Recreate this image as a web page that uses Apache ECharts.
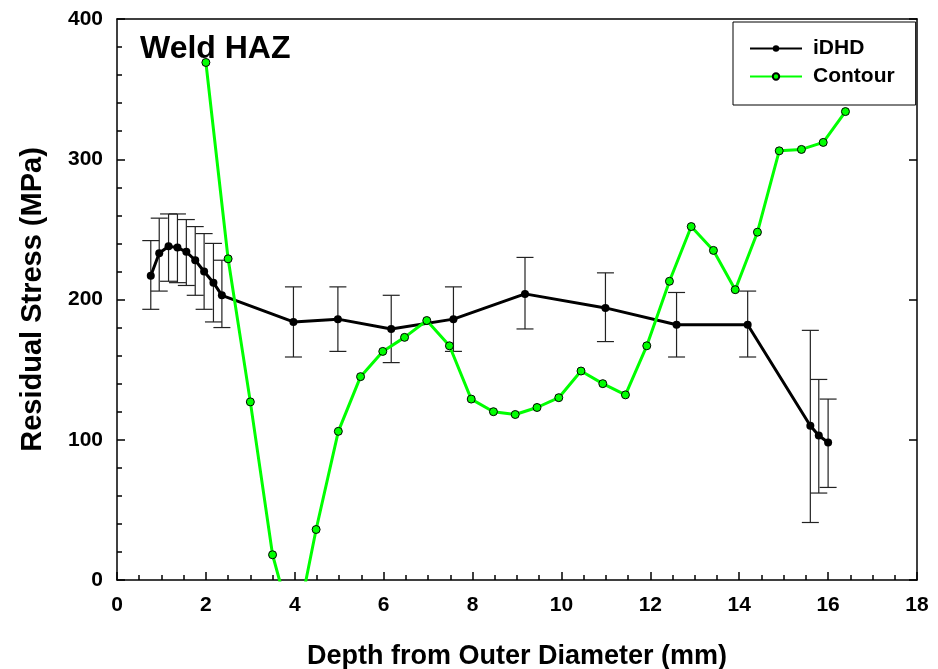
<!DOCTYPE html>
<html>
<head>
<meta charset="utf-8">
<script src="https://cdn.jsdelivr.net/npm/echarts@6/dist/echarts.min.js"></script>
<style>
html,body{margin:0;padding:0;background:#fff;}
#c{width:938px;height:669px;}
</style>
</head>
<body>
<div id="c"></div>
<script>
// ---- data ----
var idhdX  = [0.76, 0.95, 1.16, 1.36, 1.56, 1.76, 1.96, 2.17, 2.36, 3.97, 4.97, 6.17, 7.57, 9.18, 10.99, 12.59, 14.19, 15.60, 15.79, 16.00];
var idhdY  = [217, 233, 238, 237, 234, 228, 220, 212, 203, 184, 186, 179, 186, 204, 194, 182, 182, 110, 103, 98];
var idhdHi = [242, 258, 261, 261, 257, 252, 247, 240, 228, 209, 209, 203, 209, 230, 219, 205, 206, 178, 143, 129];
var idhdLo = [193, 206, 213, 212, 210, 203, 193, 184, 180, 159, 163, 155, 163, 179, 170, 159, 159, 41, 62, 66];

var contourX = [2.00, 2.50, 3.00, 3.50, 4.00, 4.48, 4.98, 5.48, 5.98, 6.47, 6.97, 7.48, 7.97, 8.47, 8.96, 9.45, 9.94, 10.44, 10.93, 11.44, 11.92, 12.43, 12.92, 13.42, 13.91, 14.41, 14.90, 15.40, 15.89, 16.39];
var contourY = [369, 229, 127, 18, -40, 36, 106, 145, 163, 173, 185, 167, 129, 120, 118, 123, 130, 149, 140, 132, 167, 213, 252, 235, 207, 248, 306, 307, 312, 334];

var xTicks = [0, 2, 4, 6, 8, 10, 12, 14, 16, 18];
var yTicks = [0, 100, 200, 300, 400];

var seriesNames = ['iDHD', 'Contour'];
var titleText = 'Weld HAZ';
var xName = 'Depth from Outer Diameter (mm)';
var yName = 'Residual Stress (MPa)';

// ---- build ----
var FONT = 'Arial, "Liberation Sans", Helvetica, sans-serif';
var idhdData = idhdX.map(function (x, i) { return [x, idhdY[i]]; });
var errData = idhdX.map(function (x, i) { return [x, idhdLo[i], idhdHi[i]]; });
var contourData = contourX.map(function (x, i) { return [x, contourY[i]]; });

var chart = echarts.init(document.getElementById('c'), null, { renderer: 'canvas' });

var option = {
  animation: false,
  backgroundColor: '#fff',
  title: {
    text: titleText,
    left: 135, top: 28,
    textStyle: { fontFamily: FONT, fontWeight: 'bold', fontSize: 32, color: '#000' }
  },
  legend: {
    orient: 'vertical',
    left: 733, top: 22,
    data: seriesNames,
    backgroundColor: '#fff',
    borderColor: '#000',
    borderWidth: 1,
    borderRadius: 0,
    padding: [16, 21, 18, 16],
    itemWidth: 52,
    itemHeight: 8,
    itemGap: 7,
    textStyle: { fontFamily: FONT, fontWeight: 'bold', fontSize: 21, color: '#000', padding: [0, 0, 0, 6] }
  },
  grid: { left: 117, right: 21, top: 19, bottom: 89, containLabel: false, outerBoundsMode: 'none' },
  xAxis: [{
    type: 'value', min: xTicks[0], max: xTicks[xTicks.length - 1], interval: 2,
    position: 'bottom',
    name: xName, nameLocation: 'middle', nameGap: 63,
    nameTextStyle: { fontFamily: FONT, fontWeight: 'bold', fontSize: 27, color: '#000' },
    axisLine: { show: true, lineStyle: { color: '#000', width: 1.5 } },
    axisTick: { show: true, inside: true, length: 8, lineStyle: { color: '#000', width: 1.5 } },
    minorTick: { show: true, splitNumber: 4, length: 5, lineStyle: { color: '#000', width: 1.5 } },
    axisLabel: { margin: 15, fontFamily: FONT, fontWeight: 'bold', fontSize: 21, color: '#000' },
    splitLine: { show: false }
  }, {
    type: 'value', min: xTicks[0], max: xTicks[xTicks.length - 1], interval: 2,
    position: 'top',
    axisLine: { show: true, onZero: false, lineStyle: { color: '#000', width: 1.5 } },
    axisTick: { show: false }, axisLabel: { show: false }, splitLine: { show: false }
  }],
  yAxis: [{
    type: 'value', min: yTicks[0], max: yTicks[yTicks.length - 1], interval: 100,
    position: 'left',
    name: yName, nameLocation: 'middle', nameGap: 70, nameRotate: 90,
    nameTextStyle: { fontFamily: FONT, fontWeight: 'bold', fontSize: 29, color: '#000' },
    axisLine: { show: true, onZero: false, lineStyle: { color: '#000', width: 1.5 } },
    axisTick: { show: true, inside: true, length: 8, lineStyle: { color: '#000', width: 1.5 } },
    minorTick: { show: true, splitNumber: 5, length: 5, lineStyle: { color: '#000', width: 1.5 } },
    axisLabel: { margin: 14, fontFamily: FONT, fontWeight: 'bold', fontSize: 21, color: '#000' },
    splitLine: { show: false }
  }, {
    type: 'value', min: yTicks[0], max: yTicks[yTicks.length - 1], interval: 100,
    position: 'right',
    axisLine: { show: true, onZero: false, lineStyle: { color: '#000', width: 1.5 } },
    axisTick: { show: true, inside: true, length: 8, lineStyle: { color: '#000', width: 1.5 } },
    axisLabel: { show: false }, splitLine: { show: false }
  }],
  series: [{
    name: 'errbars',
    type: 'custom',
    xAxisIndex: 0, yAxisIndex: 0,
    z: 1,
    data: errData,
    renderItem: function (params, api) {
      var x = api.value(0);
      var lo = api.coord([x, api.value(1)]);
      var hi = api.coord([x, api.value(2)]);
      var hw = 8.5;
      var st = { stroke: '#222', lineWidth: 1.2 };
      return {
        type: 'group',
        children: [
          { type: 'line', shape: { x1: lo[0], y1: lo[1], x2: hi[0], y2: hi[1] }, style: st },
          { type: 'line', shape: { x1: hi[0] - hw, y1: hi[1], x2: hi[0] + hw, y2: hi[1] }, style: st },
          { type: 'line', shape: { x1: lo[0] - hw, y1: lo[1], x2: lo[0] + hw, y2: lo[1] }, style: st }
        ]
      };
    }
  }, {
    name: seriesNames[0],
    type: 'line',
    xAxisIndex: 0, yAxisIndex: 0,
    z: 3,
    data: idhdData,
    symbol: 'circle', symbolSize: 8,
    lineStyle: { color: '#000', width: 3 },
    itemStyle: { color: '#000', borderColor: '#000', borderWidth: 0 }
  }, {
    name: seriesNames[1],
    type: 'line',
    xAxisIndex: 0, yAxisIndex: 0,
    z: 4,
    clip: true,
    data: contourData,
    symbol: 'circle', symbolSize: 8,
    lineStyle: { color: '#00ff00', width: 3 },
    itemStyle: { color: '#00ff00', borderColor: '#000', borderWidth: 1 }
  }]
};
chart.setOption(option);
</script>
</body>
</html>
